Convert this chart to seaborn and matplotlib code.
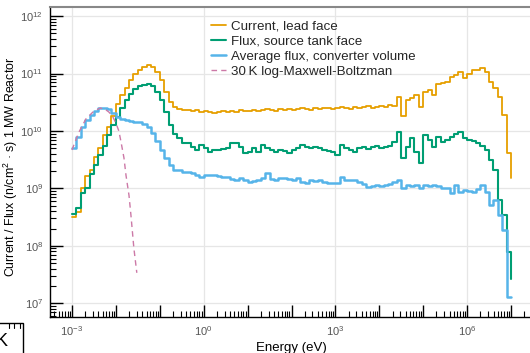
import numpy as np
import pandas as pd
import matplotlib
matplotlib.use("Agg")
import matplotlib.pyplot as plt
import matplotlib.ticker as mticker
from matplotlib.patches import Rectangle
import seaborn as sns

# energy groups: 10 per decade, 1 meV .. 10 MeV (last point closes the final step)
group_edges = np.logspace(-3, 7, 101)

# log10 of group values
current_lead_log = [
    8.50, 8.59, 9.01, 9.22, 9.32, 9.55, 9.70, 9.93, 10.07, 10.26,
    10.47, 10.63, 10.75, 10.89, 10.99, 11.06, 11.12, 11.15, 11.12, 11.03,
    10.89, 10.68, 10.51, 10.42, 10.38, 10.37, 10.37, 10.35, 10.37, 10.33,
    10.35, 10.33, 10.31, 10.33, 10.35, 10.33, 10.35, 10.33, 10.37, 10.35,
    10.35, 10.37, 10.35, 10.37, 10.38, 10.37, 10.35, 10.38, 10.37, 10.38,
    10.37, 10.38, 10.40, 10.38, 10.37, 10.40, 10.38, 10.40, 10.40, 10.38,
    10.40, 10.42, 10.40, 10.38, 10.42, 10.40, 10.42, 10.44, 10.40, 10.42,
    10.44, 10.42, 10.45, 10.44, 10.59, 10.26, 10.54, 10.57, 10.63, 10.42,
    10.68, 10.71, 10.63, 10.82, 10.84, 10.85, 10.94, 10.98, 11.03, 10.92,
    10.99, 11.06, 11.06, 11.10, 11.03, 10.85, 10.75, 10.59, 10.28, 9.62,
    9.18,
]
flux_tank_log = [
    8.55, 8.66, 8.92, 9.01, 9.25, 9.41, 9.58, 9.74, 9.93, 10.10,
    10.24, 10.40, 10.54, 10.64, 10.73, 10.78, 10.80, 10.82, 10.78, 10.68,
    10.54, 10.33, 10.10, 9.95, 9.88, 9.79, 9.79, 9.72, 9.67, 9.76,
    9.70, 9.63, 9.67, 9.67, 9.69, 9.70, 9.79, 9.79, 9.72, 9.62,
    9.63, 9.70, 9.63, 9.76, 9.70, 9.67, 9.63, 9.67, 9.65, 9.62,
    9.67, 9.70, 9.76, 9.72, 9.70, 9.72, 9.70, 9.67, 9.65, 9.63,
    9.58, 9.76, 9.70, 9.67, 9.63, 9.70, 9.72, 9.69, 9.72, 9.74,
    9.70, 9.72, 9.74, 9.81, 9.98, 9.53, 9.72, 9.88, 9.63, 9.44,
    9.93, 9.84, 9.72, 9.90, 9.81, 9.84, 9.90, 9.95, 9.98, 9.88,
    9.84, 9.83, 9.79, 9.74, 9.67, 9.49, 9.32, 8.80, 8.54, 7.89,
    7.42,
]
flux_converter_log = [
    9.70, 9.90, 10.07, 10.19, 10.28, 10.35, 10.40, 10.40, 10.38, 10.31,
    10.24, 10.21, 10.19, 10.17, 10.16, 10.16, 10.12, 10.07, 9.97, 9.83,
    9.67, 9.53, 9.41, 9.32, 9.32, 9.29, 9.29, 9.27, 9.23, 9.20,
    9.23, 9.23, 9.23, 9.22, 9.20, 9.20, 9.16, 9.15, 9.18, 9.15,
    9.11, 9.13, 9.15, 9.18, 9.27, 9.16, 9.15, 9.18, 9.18, 9.16,
    9.15, 9.18, 9.11, 9.09, 9.15, 9.13, 9.15, 9.11, 9.09, 9.09,
    9.09, 9.20, 9.15, 9.15, 9.15, 9.11, 9.08, 9.02, 9.04, 9.06,
    9.04, 9.06, 9.08, 9.11, 9.15, 9.01, 9.06, 9.04, 9.06, 9.01,
    9.06, 9.04, 9.06, 9.04, 9.01, 9.01, 8.92, 9.06, 8.94, 8.97,
    8.96, 8.94, 8.99, 9.06, 8.94, 8.71, 8.80, 8.54, 8.28, 7.11,
    7.11,
]

# 30 K Maxwellian (per unit lethargy)
mb_energy = [1.0e-3, 1.44e-3, 2.08e-3, 3.0e-3, 4.36e-3, 5.64e-3, 6.95e-3, 8.6e-3,
             1.0e-2, 1.17e-2, 1.31e-2, 1.53e-2, 1.7e-2, 1.99e-2, 2.2e-2, 2.57e-2, 3.0e-2]
mb_log = [9.67, 9.98, 10.21, 10.33, 10.40, 10.38, 10.33, 10.24,
          10.14, 10.00, 9.81, 9.53, 9.23, 8.88, 8.54, 7.96, 7.53]

labels = ["Current, lead face", "Flux, source tank face",
          "Average flux, converter volume", "30\u2009K log-Maxwell-Boltzman"]
colors = ["#E69F00", "#009E73", "#56B4E9", "#CC79A7"]
x_label_ticks = [1e-3, 1e0, 1e3, 1e6]

sns.set_theme(style="white")
plt.rcParams["font.family"] = ["Liberation Sans", "DejaVu Sans"]
plt.rcParams["mathtext.fontset"] = "custom"
plt.rcParams["mathtext.rm"] = "Liberation Sans"
plt.rcParams["mathtext.it"] = "Liberation Sans:italic"

fig = plt.figure(figsize=(5.3, 3.53), dpi=100)
ax = fig.add_axes([50 / 530, 36 / 353, 483 / 530, 310 / 353])
ax.set_xscale("log")
ax.set_yscale("log")

steps = pd.DataFrame({
    "E": group_edges,
    "current": 10 ** np.array(current_lead_log),
    "tank": 10 ** np.array(flux_tank_log),
    "conv": 10 ** np.array(flux_converter_log),
})
mb = pd.DataFrame({"E": mb_energy, "v": 10 ** np.array(mb_log)})

for col, lab, c, lw in zip(["current", "tank", "conv"], labels[:3], colors[:3], [1.3, 1.5, 1.8]):
    sns.lineplot(data=steps, x="E", y=col, ax=ax, color=c, lw=lw, label=lab,
                 drawstyle="steps-post", estimator=None, sort=False)
sns.lineplot(data=mb, x="E", y="v", ax=ax, color=colors[3], lw=1.0, label=labels[3],
             estimator=None, sort=False, dashes=False, linestyle=(0, (4, 3)))

ax.set_xlim(10 ** -3.5, 10 ** 7.5)
ax.set_ylim(10 ** 6.76, 10 ** 12.16)

# grid: every decade on y, every third decade on x
for e in range(7, 13):
    ax.axhline(10.0 ** e, color="#e6e6e6", lw=0.9, zorder=0)
for xv in x_label_ticks:
    ax.axvline(xv, color="#e6e6e6", lw=0.9, zorder=0)

ax.xaxis.set_major_locator(mticker.LogLocator(base=10, numticks=30))
ax.xaxis.set_minor_locator(mticker.LogLocator(base=10, subs=np.arange(2, 10), numticks=30))


def xfmt(v, pos):
    e = int(round(np.log10(v)))
    return f"$10^{{{e}}}$" if e % 3 == 0 else ""


ax.xaxis.set_major_formatter(mticker.FuncFormatter(xfmt))
ax.yaxis.set_major_locator(mticker.LogLocator(base=10, numticks=20))
ax.yaxis.set_minor_locator(mticker.LogLocator(base=10, subs=np.arange(2, 10), numticks=20))
ax.yaxis.set_major_formatter(mticker.LogFormatterSciNotation())

ax.tick_params(axis="both", which="major", direction="in", length=9, width=1,
               color="black", labelcolor="#555555", labelsize=8, left=True, bottom=True, pad=5)
ax.tick_params(axis="both", which="minor", direction="in", length=4, width=0.8,
               color="black", left=True, bottom=True)

for s in ["left", "bottom"]:
    ax.spines[s].set_color("black")
    ax.spines[s].set_linewidth(1)
ax.spines["top"].set_color("#888888")
ax.spines["top"].set_linewidth(1.5)
ax.spines["right"].set_visible(False)

ax.set_xlabel("Energy (eV)", fontsize=9.5, color="black", labelpad=3)
ax.set_ylabel("Current / Flux (n/cm$^2$ \u00b7 s) 1 MW Reactor", fontsize=8.9, color="black")
ax.yaxis.set_label_coords(-0.062, 0.485)

ax.legend(loc="upper left", bbox_to_anchor=(0.305, 1.0), frameon=False, fontsize=9.6,
          handlelength=1.15, handletextpad=0.4, labelspacing=0.2, borderaxespad=0.6)

# clipped panel fragment at the lower-left corner
fig.add_artist(Rectangle((-0.01, -0.01), 0.053, 0.095, transform=fig.transFigure,
                         fill=False, edgecolor="black", lw=1))
for tx in [0.017, 0.027, 0.037]:
    fig.add_artist(plt.Line2D([tx, tx], [0.085, 0.072], transform=fig.transFigure,
                              color="black", lw=0.8))
fig.text(-0.008, 0.02, "K", fontsize=13, color="black")

fig.savefig("out.png", dpi=100)
